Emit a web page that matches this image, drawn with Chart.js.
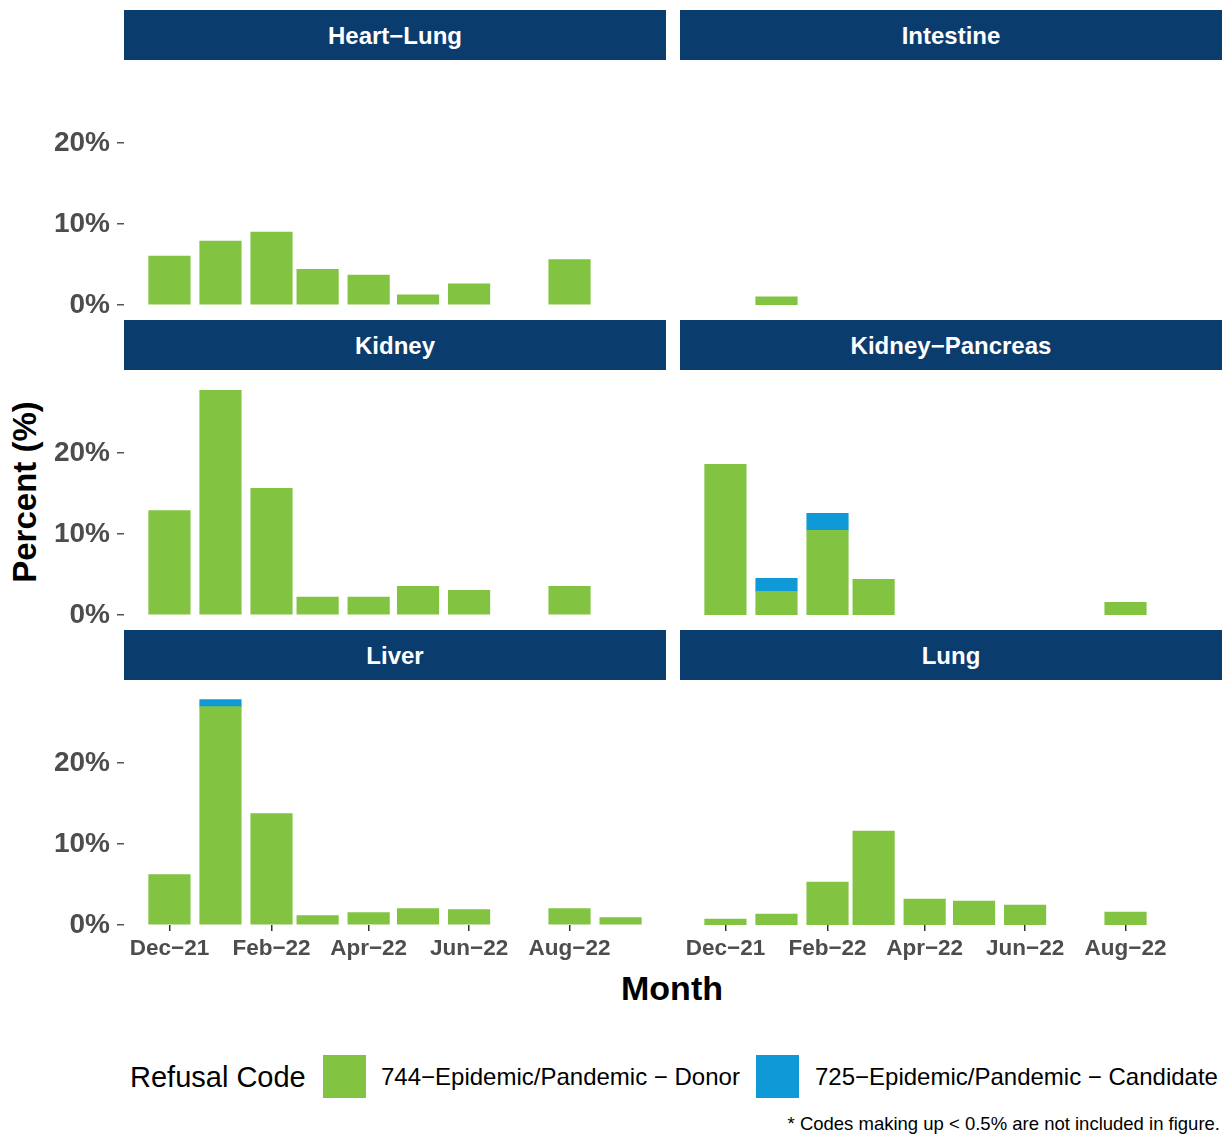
<!DOCTYPE html>
<html>
<head>
<meta charset="utf-8">
<script src="https://cdn.jsdelivr.net/npm/chart.js@4.4.0/dist/chart.umd.min.js"></script>
<style>
  body { margin: 0; background: #fff; font-family: "Liberation Sans", Arial, sans-serif; }
  #page { position: relative; width: 1225px; height: 1138px; overflow: hidden; }
  .strip { position: absolute; width: 542px; height: 50px; background: #0B3C6E; color: #fff; box-sizing: border-box; padding-top: 2px;
    font-weight: bold; font-size: 24px; display: flex; align-items: center; justify-content: center; z-index: 2; }
  canvas { position: absolute; }
  .txt { position: absolute; white-space: nowrap; }
  .key { position: absolute; width: 43px; height: 43px; }
</style>
</head>
<body>
<div id="page">
  <div class="txt" style="left:25px;top:492px;transform:translate(-50%,-50%) rotate(-90deg);font-weight:bold;font-size:33px;color:#000">Percent (%)</div>
  <div class="txt" style="left:672px;top:988px;transform:translate(-50%,-50%);font-weight:bold;font-size:34px;color:#000">Month</div>
  <div class="txt" style="left:130px;top:1077px;transform:translateY(-50%);font-size:29px;color:#000">Refusal Code</div>
  <div class="key" style="left:323px;top:1055px;background:#82C342"></div>
  <div class="txt" style="left:381px;top:1077px;transform:translateY(-50%);font-size:24px;color:#000">744−Epidemic/Pandemic − Donor</div>
  <div class="key" style="left:756px;top:1055px;background:#0F9AD7"></div>
  <div class="txt" style="left:815px;top:1077px;transform:translateY(-50%);font-size:24px;color:#000">725−Epidemic/Pandemic − Candidate</div>
  <div class="txt" style="right:5px;top:1124px;transform:translateY(-50%);font-size:18.5px;color:#000">* Codes making up &lt; 0.5% are not included in figure.</div>
</div>
<script>
// months on the x axis (first day of each month)
const months = ['2021-12', '2022-01', '2022-02', '2022-03', '2022-04', '2022-05', '2022-06', '2022-07', '2022-08', '2022-09']
const tickMonths = ['2021-12', '2022-02', '2022-04', '2022-06', '2022-08']
const tickLabels = ['Dec−21', 'Feb−22', 'Apr−22', 'Jun−22', 'Aug−22']
const yTicks = [0, 10, 20]

const organs = ['Heart−Lung', 'Intestine', 'Kidney', 'Kidney−Pancreas', 'Liver', 'Lung']

// percent of refusals, code 744 (donor)
const heartLungDonor = [6.05, 7.9, 9.0, 4.4, 3.7, 1.25, 2.6, null, 5.6, null]
const intestineDonor = [null, 1.0, null, null, null, null, null, null, null, null]
const kidneyDonor = [12.9, 27.75, 15.65, 2.2, 2.2, 3.55, 3.05, null, 3.55, null]
const kidneyPancreasDonor = [18.6, 2.93, 10.46, 4.4, null, null, null, null, 1.57, null]
const liverDonor = [6.23, 26.97, 13.77, 1.17, 1.54, 2.04, 1.91, null, 2.04, 0.93]
const lungDonor = [0.74, 1.36, 5.3, 11.6, 3.2, 2.96, 2.47, null, 1.6, null]

// percent of refusals, code 725 (candidate)
const heartLungCandidate = [null, null, null, null, null, null, null, null, null, null]
const intestineCandidate = [null, null, null, null, null, null, null, null, null, null]
const kidneyCandidate = [null, null, null, null, null, null, null, null, null, null]
const kidneyPancreasCandidate = [null, 1.6, 2.1, null, null, null, null, null, null, null]
const liverCandidate = [null, 0.87, null, null, null, null, null, null, null, null]
const lungCandidate = [null, null, null, null, null, null, null, null, null, null]

const donorSeries = [heartLungDonor, intestineDonor, kidneyDonor, kidneyPancreasDonor, liverDonor, lungDonor]
const candidateSeries = [heartLungCandidate, intestineCandidate, kidneyCandidate, kidneyPancreasCandidate, liverCandidate, lungCandidate]

const GREEN = '#82C342'
const BLUE = '#0F9AD7'
const FONT = '"Liberation Sans", Arial, sans-serif'

/**
 * Days since 1 Dec 2021 for a 'YYYY-MM' month.
 */
function dayOf (m) {
  const [y, mo] = m.split('-').map(Number)
  return (Date.UTC(y, mo - 1, 1) - Date.UTC(2021, 11, 1)) / 86400000
}

const tickDays = tickMonths.map(dayOf)

function toPoints (values) {
  return months.map((m, i) => ({ x: dayOf(m), y: values[i] }))
}

/**
 * One facet panel.
 */
function makePanel (idx) {
  const row = Math.floor(idx / 2)
  const col = idx % 2
  const plotTop = 60 + row * 310
  const plotH = 245
  const showY = col === 0
  const showX = row === 2
  const axisW = 124
  const axisH = 45
  const bottomPad = showX ? 0 : 16

  const page = document.getElementById('page')

  const strip = document.createElement('div')
  strip.className = 'strip'
  strip.style.left = (col === 0 ? 124 : 680) + 'px'
  strip.style.top = (plotTop - 50) + 'px'
  strip.textContent = organs[idx]
  page.appendChild(strip)

  const canvas = document.createElement('canvas')
  const w = showY ? 542 + axisW : 542
  const h = plotH + (showX ? axisH : bottomPad)
  canvas.width = w
  canvas.height = h
  canvas.style.left = (col === 0 ? 124 - (showY ? axisW : 0) : 680) + 'px'
  canvas.style.top = plotTop + 'px'
  page.appendChild(canvas)

  new Chart(canvas.getContext('2d'), {
    type: 'bar',
    data: {
      datasets: [
        { label: '744', data: toPoints(donorSeries[idx]), backgroundColor: GREEN, borderWidth: 0 },
        { label: '725', data: toPoints(candidateSeries[idx]), backgroundColor: BLUE, borderWidth: 0 }
      ]
    },
    options: {
      responsive: false,
      animation: false,
      events: [],
      layout: { padding: { top: 0, left: 0, right: 0, bottom: bottomPad } },
      barThickness: 41.5,
      plugins: { legend: { display: false }, tooltip: { enabled: false } },
      scales: {
        x: {
          type: 'linear',
          stacked: true,
          offset: false,
          min: -27.6,
          max: 301.6,
          display: showX,
          border: { display: false },
          grid: { drawOnChartArea: false, drawTicks: true, tickLength: 6, color: '#333', lineWidth: 1.5, offset: false },
          afterBuildTicks: (s) => { s.ticks = tickDays.map(v => ({ value: v })) },
          afterFit: (s) => {
            if (showX) s.height = axisH
            s.paddingLeft = 0
            s.paddingRight = 0
          },
          ticks: {
            autoSkip: false,
            maxRotation: 0,
            padding: 4,
            color: '#4D4D4D',
            font: { family: FONT, size: 22.5, weight: 'bold' },
            callback: (v) => tickLabels[tickDays.indexOf(v)]
          }
        },
        y: {
          stacked: true,
          min: 0,
          max: 30.25,
          display: showY,
          border: { display: false },
          grid: { drawOnChartArea: false, drawTicks: true, tickLength: 7, color: '#555', lineWidth: 1.5 },
          afterBuildTicks: (s) => { s.ticks = yTicks.map(v => ({ value: v })) },
          afterFit: (s) => {
            if (showY) s.width = axisW
            s.paddingTop = 0
            s.paddingBottom = 0
          },
          ticks: {
            padding: 7,
            color: '#4D4D4D',
            font: { family: FONT, size: 28, weight: 'bold' },
            callback: (v) => v + '%'
          }
        }
      }
    }
  })
}

organs.forEach((o, i) => makePanel(i))
</script>
</body>
</html>
